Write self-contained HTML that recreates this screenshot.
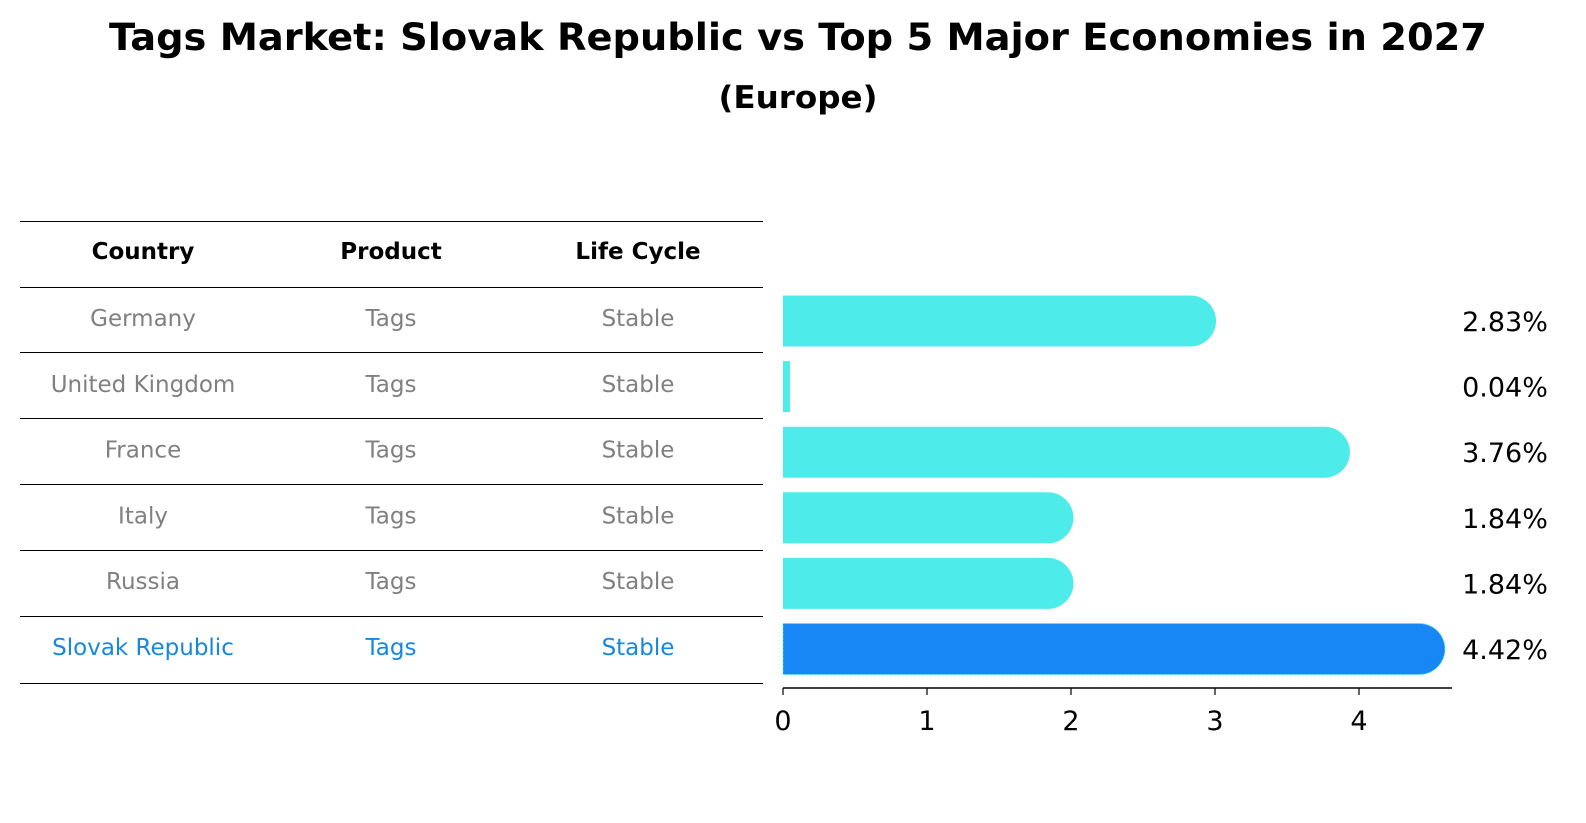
<!DOCTYPE html>
<html><head><meta charset="utf-8"><style>
html,body{margin:0;padding:0;background:#fff;overflow:hidden;width:1586px;height:823px;}
svg{display:block;}
text{font-family:"DejaVu Sans","Liberation Sans",sans-serif;}
</style></head><body>
<svg width="1586" height="823" xmlns="http://www.w3.org/2000/svg">
<text x="798" y="50" text-anchor="middle" font-size="37" font-weight="bold" textLength="1378" lengthAdjust="spacingAndGlyphs">Tags Market: Slovak Republic vs Top 5 Major Economies in 2027</text>
<text x="798" y="108" text-anchor="middle" font-size="31" font-weight="bold" textLength="159" lengthAdjust="spacingAndGlyphs">(Europe)</text>
<g id="table"></g>
<g id="bars"></g>
</svg>
<script>
const countries=["Germany","United Kingdom","France","Italy","Russia","Slovak Republic"];
const products=["Tags","Tags","Tags","Tags","Tags","Tags"];
const lifeCycles=["Stable","Stable","Stable","Stable","Stable","Stable"];
const values=[2.83,0.04,3.76,1.84,1.84,4.42];
const valueLabels=["2.83%","0.04%","3.76%","1.84%","1.84%","4.42%"];
const xTicks=[0,1,2,3,4];
const NS="http://www.w3.org/2000/svg";
function mk(tag,attrs,parent,text){const e=document.createElementNS(NS,tag);for(const k in attrs)e.setAttribute(k,attrs[k]);if(text!==undefined)e.textContent=text;parent.appendChild(e);return e;}
const x=v=>783+v*144;
const rowY=i=>321+i*65.6;
const table=document.getElementById('table');
const lines=[221,287,352,418,484,550,616,683];
lines.forEach((ly,i)=>{const l=mk('line',{x1:20,x2:763,y1:ly+0.5,y2:ly+0.5,stroke:'#000','stroke-width':1},table);

});
const cols=[143,391,638];
["Country","Product","Life Cycle"].forEach((h,j)=>{const t=mk('text',{x:cols[j],y:259,'text-anchor':'middle','font-size':23,'font-weight':'bold'},table,h);

});
countries.forEach((c,i)=>{const col=i===countries.length-1?'#1787e0':'#808080';const cy=318+i*65.8+8;
[c,products[i],lifeCycles[i]].forEach((s,j)=>{const t=mk('text',{x:cols[j],y:cy,'text-anchor':'middle','font-size':23,fill:col},table,s);

});});
const bars=document.getElementById('bars');
const h=51,r=25.5;
values.forEach((v,i)=>{const cy=rowY(i);const last=i===values.length-1;const fill=last?'#1787f5':'#4decea';
let p;
if(x(v)-x(0)<r){p=mk('rect',{x:x(0),y:cy-h/2,width:Math.max(x(v)-x(0),7),height:h,fill:fill},bars);}
else{const xe=x(v);p=mk('path',{d:`M${x(0)},${cy-h/2} H${xe} A${r},${r} 0 0 1 ${xe},${cy+h/2} H${x(0)} Z`,fill:fill},bars);
if(last){p.setAttribute('stroke','#4decea');p.setAttribute('stroke-dasharray','2,2');p.setAttribute('stroke-width','1');}}


const t=mk('text',{x:1505,y:cy+10,'text-anchor':'middle','font-size':27},bars,valueLabels[i]);

});
const ax=mk('line',{x1:x(0),x2:1452,y1:688,y2:688,stroke:'#000','stroke-width':1.5},bars);


xTicks.forEach(v=>{const tk=mk('line',{x1:x(v),x2:x(v),y1:688,y2:695,stroke:'#000','stroke-width':1.2},bars);


const t=mk('text',{x:x(v),y:730,'text-anchor':'middle','font-size':27},bars,String(v));

});
</script>
</body></html>
